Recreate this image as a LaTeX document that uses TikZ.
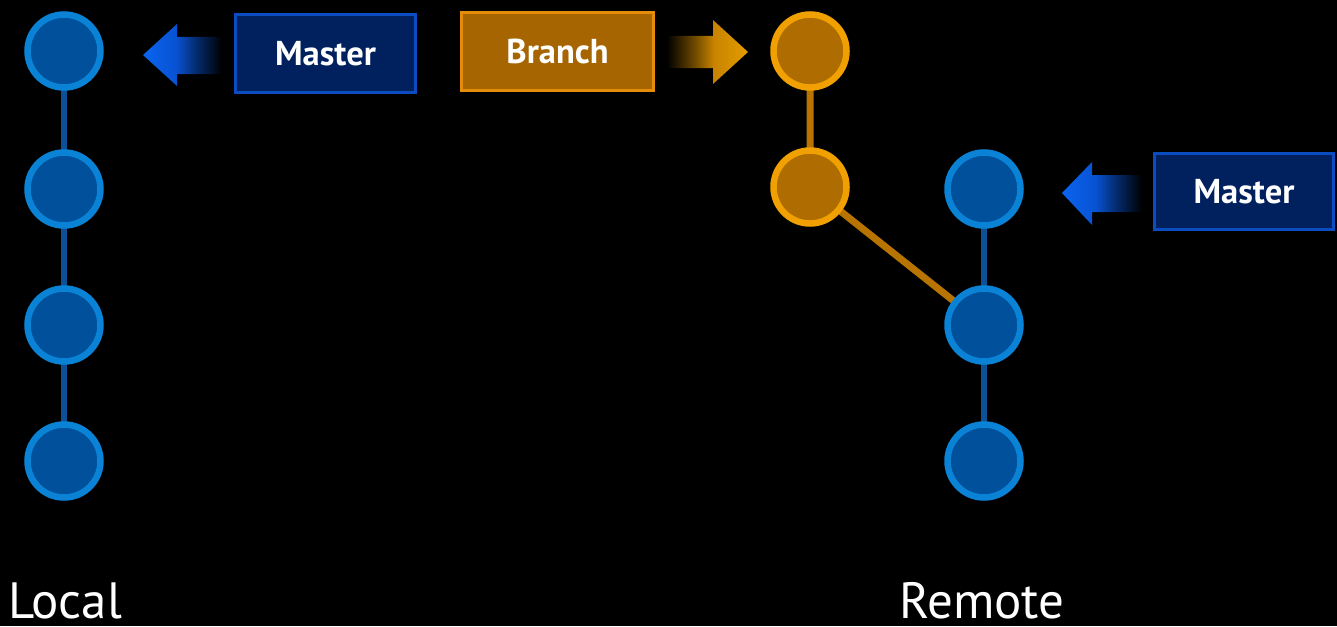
\documentclass[tikz,border=0pt]{standalone}
\usepackage{fontspec}
\setmainfont{PT Sans}
\usetikzlibrary{backgrounds}
\definecolor{cstroke}{HTML}{0A82D6}
\definecolor{cfill}{HTML}{00509B}
\definecolor{clink}{HTML}{0C5196}
\definecolor{ostroke}{HTML}{F0A000}
\definecolor{ofill}{HTML}{AF6C00}
\definecolor{olink}{HTML}{B87400}
\definecolor{navyfill}{HTML}{00215E}
\definecolor{navyedge}{HTML}{0B4CC0}
\definecolor{brfill}{HTML}{A66500}
\definecolor{bredge}{HTML}{E58D0A}
\definecolor{abright}{HTML}{0A64F0}
\definecolor{amid}{HTML}{0852D2}
\definecolor{obright}{HTML}{E59C00}
\definecolor{omid}{HTML}{C88400}
\pgfdeclarehorizontalshading{bluearrowshade}{100bp}{color(0bp)=(abright); color(25bp)=(abright); color(46bp)=(amid); color(58bp)=(amid!55!black); color(75bp)=(black); color(100bp)=(black)}
\pgfdeclarehorizontalshading{orangearrowshade}{100bp}{color(0bp)=(black); color(25bp)=(black); color(42bp)=(omid!55!black); color(54bp)=(omid); color(75bp)=(obright); color(100bp)=(obright)}
\begin{document}
\begin{tikzpicture}[x=1pt,y=-1pt,
  commit/.style={circle, draw, line width=6.5pt, inner sep=0pt, minimum size=73pt},
  bluecommit/.style={commit, draw=cstroke, fill=cfill},
  orangecommit/.style={commit, draw=ostroke, fill=ofill},
  bluelink/.style={draw=clink, line width=6.5pt},
  orangelink/.style={draw=olink, line width=7pt},
  tagbox/.style={rectangle, draw, line width=3pt, inner sep=0pt, text=white, font=\fontsize{34.5}{40}\selectfont\bfseries},
  mastertag/.style={tagbox, draw=navyedge, fill=navyfill},
  branchtag/.style={tagbox, draw=bredge, fill=brfill},
  sidelabel/.style={anchor=base west, inner sep=0pt, text depth=0pt, text=white, font=\fontsize{51}{60}\selectfont}]
\useasboundingbox (0,0) rectangle (1337,626);
% local commits
\node[bluecommit] (l1) at (64,51) {};
\node[bluecommit] (l2) at (64,189) {};
\node[bluecommit] (l3) at (64,325) {};
\node[bluecommit] (l4) at (64,461) {};
% branch commits
\node[orangecommit] (b1) at (810,51) {};
\node[orangecommit] (b2) at (810,187) {};
% remote commits
\node[bluecommit] (r1) at (984,189) {};
\node[bluecommit] (r2) at (984,325) {};
\node[bluecommit] (r3) at (984,461) {};
% tags
\node[mastertag, minimum width=180pt, minimum height=78pt] (m1) at (325.5,53.5) {Master};
\node[branchtag, minimum width=192pt, minimum height=78pt] (br) at (557.5,51.5) {Branch};
\node[mastertag, minimum width=179pt, minimum height=76pt] (m2) at (1244,191.5) {Master};
% pointer arrows
\shade[shading=bluearrowshade] (143,55) -- (177,24) -- (177,37) -- (222,37) -- (222,74) -- (177,74) -- (177,86) -- cycle;
\shade[shading=orangearrowshade] (748,52) -- (713,20) -- (713,36) -- (667,36) -- (667,68) -- (713,68) -- (713,84) -- cycle;
\shade[shading=bluearrowshade] (1062,193) -- (1092,162) -- (1092,175) -- (1142,175) -- (1142,212) -- (1092,212) -- (1092,225) -- cycle;
% labels
\node[sidelabel] (loc) at (8,618) {Local};
\node[sidelabel] (rem) at (899,618) {Remote};
\begin{pgfonlayer}{background}
\fill[black] (0,0) rectangle (1337,626);
\draw[bluelink] (l1.center) -- (l2.center) -- (l3.center) -- (l4.center);
\draw[bluelink] (r1.center) -- (r2.center) -- (r3.center);
\draw[orangelink] (b1.center) -- (b2.center) -- (r2.center);
\end{pgfonlayer}
\end{tikzpicture}
\end{document}
